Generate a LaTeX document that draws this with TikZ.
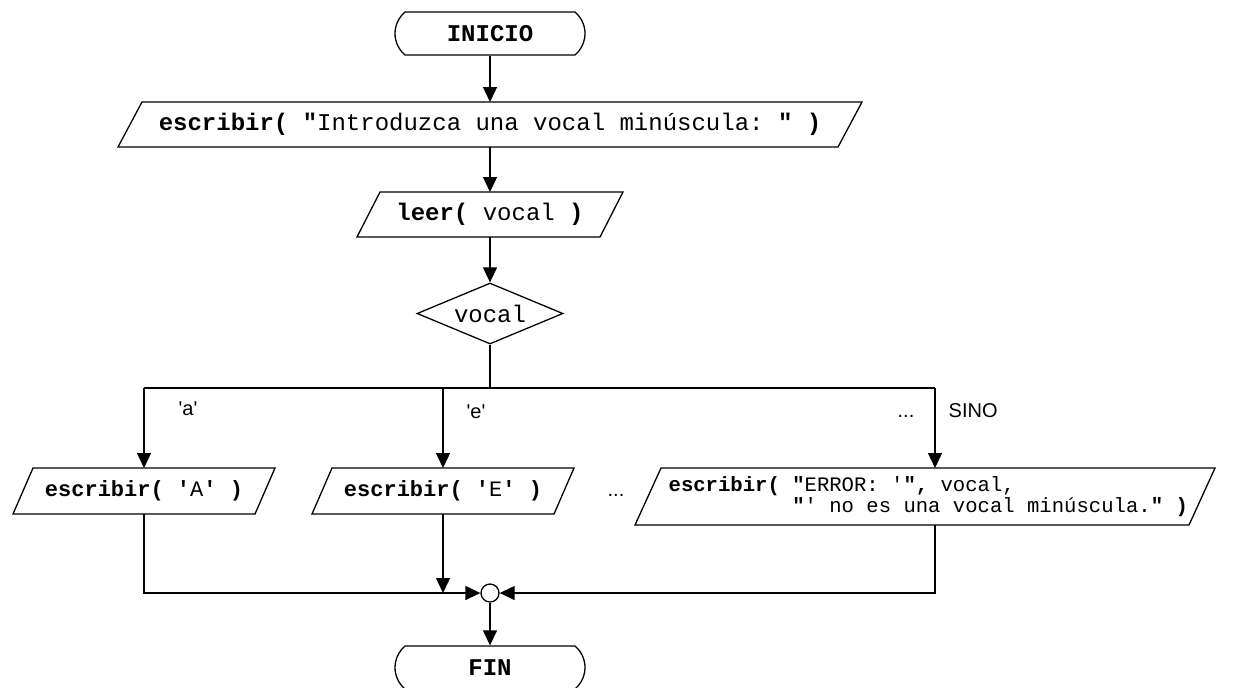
\documentclass[tikz,border=0pt]{standalone}
\usepackage{fontspec}
\setmonofont{Liberation Mono}
\newfontfamily\arial{Liberation Sans}
\usetikzlibrary{shapes.geometric,shapes.misc,arrows.meta,calc}

\newcommand\ioshape[6]{%
  \draw[boxline] ({#2-#4/2+#6/2},{#3-#5/2}) -- ++(#4,0) -- ++({-#6},#5) -- ++({-#4},0) -- cycle;
  \coordinate (#1-t) at (#2,{#3-#5/2});
  \coordinate (#1-b) at (#2,{#3+#5/2});
}

\begin{document}
\begin{tikzpicture}[x=0.5pt,y=-0.5pt,line width=0.65pt,
  arr/.style={-{Triangle[length=7.5pt,width=7pt]}},
  boxline/.style={line width=0.65pt,line join=miter},
  term/.style={draw,rounded rectangle,rounded rectangle arc length=100,
    minimum width=95pt,minimum height=21.5pt,inner sep=0pt,
    font=\ttfamily\bfseries\fontsize{12}{14}\selectfont},
  codeA/.style={inner sep=0pt,font=\ttfamily\fontsize{12}{14}\selectfont},
  codeB/.style={inner sep=0pt,align=left,font=\ttfamily\fontsize{11}{12}\selectfont},
  codeC/.style={inner sep=0pt,align=left,font=\ttfamily\fontsize{10.3}{9.3}\selectfont},
  lbl/.style={inner sep=0pt,font=\arial\fontsize{10}{12}\selectfont},
  decision/.style={draw,diamond,aspect=2.4,minimum width=73pt,minimum height=30.5pt,
    inner sep=0pt,font=\ttfamily\fontsize{12}{14}\selectfont}]
\useasboundingbox (0,0) rectangle (1234,687);

% terminals
\node[term] (inicio) at (490,33.5) {INICIO};
\node[term] (fin) at (490,667.5) {FIN};

% input / output
\ioshape{p1}{490}{124.5}{720}{45}{24}
\node[codeA] (p1) at (490,124.5) {\textbf{escribir( "}Introduzca una vocal minúscula: \textbf{" )}};

\ioshape{p2}{490}{214.5}{243}{45}{23}
\node[codeA] (p2) at (490,214.5) {\textbf{leer(} vocal \textbf{)}};

\node[decision] (dia) at (490,313.5) {vocal};

\ioshape{pA}{144}{491}{242}{46}{20}
\node[codeB] (pA) at (144,491) {\textbf{escribir( '}A\textbf{' )}};

\ioshape{pE}{443}{491}{242}{46}{20}
\node[codeB] (pE) at (443,491) {\textbf{escribir( '}E\textbf{' )}};

\ioshape{pS}{925}{496.5}{554}{57}{26}
\node[codeC,anchor=west] (pS) at (668,496.5) {\textbf{escribir( "}ERROR: '\textbf{",} vocal,\\
~~~~~~~~~~\textbf{"}' no es una vocal minúscula.\textbf{" )}};

% branch points
\coordinate (br) at (490,388);
\coordinate (brA) at (144,388);
\coordinate (brE) at (443,388);
\coordinate (brS) at (935,388);

\node[circle,draw,minimum size=9pt,inner sep=0pt] (join) at (490,593) {};

% connectors
\draw[arr] (inicio.south) -- (p1-t);
\draw[arr] (p1-b) -- (p2-t);
\draw[arr] (p2-b) -- (dia.north);
\draw (dia.south) -- (br);
\draw (brA) -- (brS);
\draw[arr] (brA) -- (pA-t);
\draw[arr] (brE) -- (pE-t);
\draw[arr] (brS) -- (brS |- pS-t);
\draw[arr] (pA-b) |- (join.west);
\draw[arr] (pE-b) -- (pE-b |- join);
\draw[arr] (brS |- pS-b) |- (join.east);
\draw[arr] (join.south) -- (fin.north);

% labels
\node[lbl,anchor=base west] (la) at (178,415) {'a'};
\node[lbl,anchor=base west] (le) at (466,418) {'e'};
\node[lbl,anchor=base] (ldots) at (906,417) {...};
\node[lbl,anchor=base west] (lsino) at (948,417) {SINO};
\node[lbl,anchor=base] (mdots) at (616,496) {...};
\end{tikzpicture}
\end{document}
